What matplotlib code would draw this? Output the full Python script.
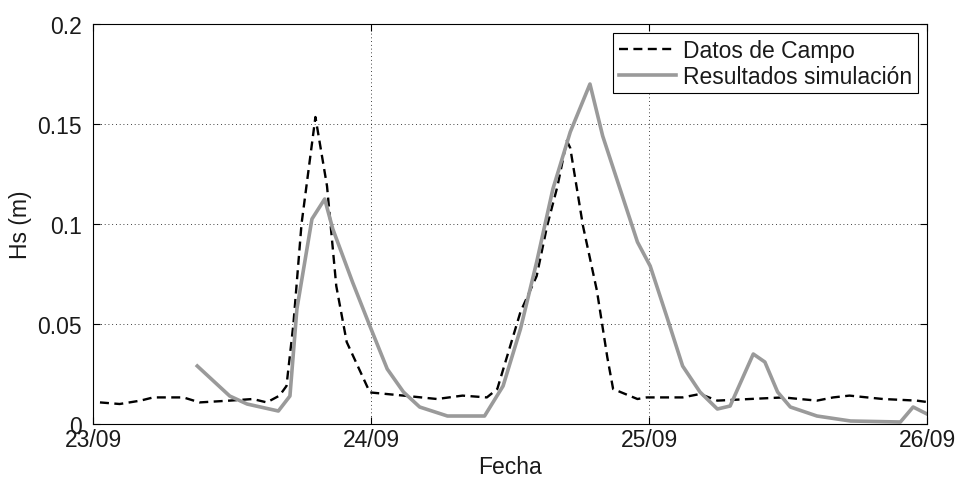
import matplotlib
matplotlib.use('Agg')
import matplotlib.pyplot as plt
from matplotlib.ticker import FuncFormatter

plt.rcParams['font.family'] = ['Liberation Sans', 'DejaVu Sans']

# hours since 23/09 00:00
campo_h = [0.6, 2.3, 4.1, 5.2, 7.8, 9.2, 11.8, 13.8, 15.0, 16.1, 16.7, 17.3, 18.0,
           19.2, 20.2, 21.0, 21.9, 23.9, 26.8, 29.7, 31.9, 34.0, 34.9, 36.9, 38.3,
           39.2, 40.1, 40.9, 41.2, 42.3, 43.5, 44.4, 44.9, 47.0, 47.8, 48.1, 50.9,
           52.4, 53.9, 56.7, 59.6, 61.0, 62.5, 63.9, 65.3, 68.2, 71.1, 72.0]
campo_hs = [0.0108, 0.0100, 0.0117, 0.0133, 0.0133, 0.0108, 0.0117, 0.0125, 0.0108,
            0.0142, 0.0190, 0.0500, 0.1000, 0.1535, 0.1190, 0.0690, 0.0410, 0.0158,
            0.0142, 0.0125, 0.0142, 0.0133, 0.0175, 0.0560, 0.0740, 0.0990, 0.1190,
            0.1417, 0.1380, 0.0990, 0.0667, 0.0333, 0.0175, 0.0125, 0.0133, 0.0133,
            0.0133, 0.0150, 0.0117, 0.0125, 0.0133, 0.0125, 0.0117, 0.0133, 0.0142,
            0.0125, 0.0117, 0.0110]

sim_h = [9.0, 11.8, 13.3, 16.0, 17.0, 17.6, 18.9, 20.0, 20.7, 22.4, 23.9, 25.4,
         26.8, 28.2, 30.6, 33.8, 35.4, 36.9, 38.3, 39.7, 41.2, 42.9, 44.0, 45.5,
         47.0, 48.1, 49.6, 50.9, 52.4, 53.9, 55.0, 57.0, 58.0, 59.1, 60.2, 62.5,
         65.4, 69.7, 70.8, 72.0]
sim_hs = [0.0290, 0.0140, 0.0100, 0.0065, 0.0140, 0.0575, 0.1025, 0.1125, 0.0975,
          0.0710, 0.0490, 0.0275, 0.0160, 0.0085, 0.0040, 0.0040, 0.0190, 0.0475,
          0.0810, 0.1175, 0.1460, 0.1700, 0.1440, 0.1175, 0.0910, 0.0790, 0.0525,
          0.0290, 0.0160, 0.0075, 0.0090, 0.0350, 0.0310, 0.0160, 0.0085, 0.0040,
          0.0015, 0.0010, 0.0085, 0.0050]

tick_h = [0, 24, 48, 72]
tick_labels = ['23/09', '24/09', '25/09', '26/09']

fs = 16.5
txt = '#1a1a1a'

fig = plt.figure(figsize=(9.56, 4.81), dpi=100)
ax = fig.add_axes([0.0973, 0.1164, 0.8724, 0.8316])

ax.plot(campo_h, campo_hs, color='black', lw=1.7, dashes=(3.8, 2.3),
        label='Datos de Campo')
ax.plot(sim_h, sim_hs, color='#9a9a9a', lw=2.6, label='Resultados simulación')

ax.set_xlim(0, 72)
ax.set_ylim(0, 0.2)
ax.set_xticks(tick_h)
ax.set_xticklabels(tick_labels)
ax.set_yticks([0, 0.05, 0.1, 0.15, 0.2])
ax.yaxis.set_major_formatter(FuncFormatter(lambda v, p: '%g' % v))
ax.grid(True, color='black', linestyle=(0, (1, 3.5)), lw=0.6)
ax.tick_params(direction='in', top=True, right=True, length=5, width=0.8,
               labelsize=fs, labelcolor=txt)
ax.tick_params(axis='y', pad=8)
ax.tick_params(axis='x', pad=3)
for s in ax.spines.values():
    s.set_linewidth(0.8)

ax.set_xlabel('Fecha', fontsize=fs, labelpad=3, color=txt)
ax.set_ylabel('Hs (m)', fontsize=fs, labelpad=4, color=txt)

leg = ax.legend(loc='upper right', fontsize=fs, fancybox=False, framealpha=1,
                edgecolor='black', handlelength=2.5, handletextpad=0.3,
                labelspacing=0.12, borderpad=0.25, borderaxespad=0.4)
leg.get_frame().set_linewidth(0.8)
for t in leg.get_texts():
    t.set_color(txt)

fig.savefig('out.png', dpi=100)
